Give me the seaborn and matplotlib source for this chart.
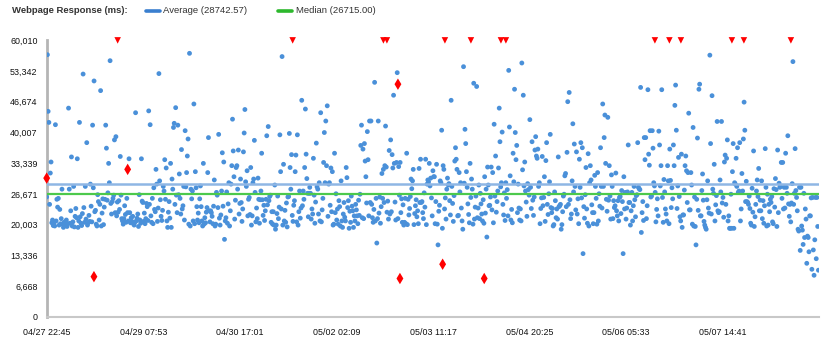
import matplotlib
matplotlib.use("Agg")
import matplotlib.pyplot as plt
import matplotlib.dates as mdates
from matplotlib.lines import Line2D
import numpy as np
import pandas as pd
import seaborn as sns

# ---- data -------------------------------------------------------------
START = "2016-04-27 22:45"
SAMPLE_FREQ = "15min"

# response times (ms), one sample every 15 minutes, in time order
block_a = [
    26000, 56900, 44600, 42200, 24400, 31200, 33600, 20400, 21000, 19800,
    20400, 19700, 41700, 20800, 25500, 23800, 25700, 19900, 23300, 20200,
    21300, 27700, 20100, 19400, 20500, 19900, 20300, 21000, 19600, 20200,
    45300, 27700, 20300, 23000, 34700, 19700, 20600, 28300, 19500, 21800,
    23500, 21500, 34300, 19400, 20800, 42200, 21700, 20300, 19800, 22400,
    52700, 23700, 20500, 28300, 21200, 37800, 19900, 20400, 22000, 20700,
    28800, 24000, 20600, 41600, 28000, 51200, 22800, 23100, 20100, 19700,
    26500, 25000, 21000, 24400, 49100, 19700, 22500, 25600, 20000, 23800,
    25500, 41600, 36600, 25300, 26900, 33300, 29100, 55600, 24600, 22300,
    25000, 25700, 26400, 38400, 22600, 39100, 21900, 24900, 22700, 25200,
    23300, 34800, 26400, 21300, 20800, 20100, 21300, 24100, 22200, 20500,
    25700, 22600, 20800, 34300, 22600, 20400, 21500, 20700, 21800, 20200,
    19900, 20500, 44300, 20800, 21400, 22300, 19600, 26500, 21000, 20300,
    34300, 25100, 24800, 20700, 22500, 20200, 21300, 24600, 23900, 20900,
    44700, 24400, 41700, 21900, 20500, 25700, 20200, 28000, 23300, 22800,
    32000, 28800, 20700, 23600, 52800, 29500, 25400, 21800, 20900, 23100,
    28300, 27300, 34100, 25500, 32300, 20800, 19400, 22700, 25000, 21400,
    33300, 19400, 29900, 27700, 41100, 42000, 24400, 45400, 26400, 22600,
    41600, 26500, 31000, 25700, 22300, 36300, 23400, 24100, 28300, 21000,
    40400, 28200, 31300, 34900, 38600, 20100, 57200, 19700, 27700, 25600,
    27300, 20800, 46200, 20200, 31500, 28000, 23900, 21000, 22500, 20400,
]
block_b = [
    25600, 28400, 23900, 20800, 19700, 33300, 20100, 21500, 20400, 22700,
    23700, 31300, 38900, 23000, 20600, 23000, 22600, 21800, 20200, 24000,
    29700, 19700, 20100, 27000, 26400, 23700, 39600, 21400, 19900, 22100,
    27300, 35600, 24000, 33600, 16800, 20800, 21500, 27100, 20300, 24500,
    29100, 19700, 23000, 28800, 32800, 42900, 36000, 30400, 21200, 25300,
    32400, 32800, 27700, 36200, 22300, 24600, 29900, 24800, 20700, 23400,
    35800, 39900, 45000, 29300, 28300, 31700, 21900, 25500, 25900, 22200,
    32400, 19900, 21900, 29100, 29900, 38300, 27000, 20600, 23600, 21300,
    30100, 25500, 20300, 25400, 27300, 35500, 25400, 22000, 24200, 20900,
    23000, 25500, 39300, 24300, 41300, 25200, 26100, 26400, 20500, 22800,
    20100, 22800, 19900, 28600, 19000, 19900, 22400, 26200, 21300, 23800,
    39500, 31500, 23400, 56500, 19900, 33100, 20800, 23100, 20500, 24700,
    19500, 26000, 26100, 39800, 32400, 27700, 35200, 22000, 20700, 24200,
    25200, 31500, 35100, 20600, 39500, 19900, 22800, 27300, 21400, 23600,
    47000, 24100, 27300, 25500, 32400, 45100, 35300, 30000, 26800, 21700,
    26800, 28100, 26800, 21200, 23400, 22300, 34400, 26400, 20300, 24900,
    37700, 28200, 27700, 22300, 29100, 20800, 44300, 20600, 23200, 25700,
    33500, 40000, 29100, 42500, 32800, 45800, 21800, 28800, 29100, 24200,
    32300, 22800, 31500, 19900, 20100, 35500, 22600, 26700, 21000, 23400,
    20100, 25200, 23900, 19700, 29500, 20800, 19400, 22300, 24800, 21600,
    20800, 32400, 30200, 23700, 25200, 19200, 22900, 20500, 26200, 24000,
]
block_c = [
    23000, 19400, 21900, 20800, 24400, 23200, 21900, 20200, 25300, 22000,
    26600, 37200, 41600, 21500, 36400, 21300, 37600, 33800, 30400, 24700,
    40200, 34100, 21900, 42500, 24800, 42500, 24400, 21500, 20500, 23300,
    50900, 20800, 25700, 16000, 21300, 42500, 22500, 26000, 20300, 23900,
    31100, 25700, 32000, 24800, 32800, 41400, 32500, 22700, 25100, 21200,
    36100, 22300, 38400, 22800, 35200, 32300, 48100, 33300, 24900, 21000,
    33500, 53000, 21300, 32600, 26400, 33500, 22600, 25600, 20500, 24300,
    19900, 20500, 25700, 20200, 35500, 20000, 25500, 22100, 23500, 26100,
    29900, 27800, 29500, 32000, 20000, 22400, 24100, 25400, 21700, 23000,
    20200, 32200, 24800, 34200, 24800, 25000, 22600, 21300, 26900, 23800,
    34200, 20000, 28800, 29700, 29300, 33300, 28400, 30100, 25800, 21900,
    31700, 30400, 30400, 20200, 25000, 33100, 20100, 15600, 22900, 24200,
    29500, 29100, 40500, 19200, 32800, 32000, 23400, 25800, 21200, 27700,
    30100, 28600, 28900, 25200, 22100, 47000, 28300, 24600, 20700, 26300,
    33800, 36700, 34200, 32000, 21900, 22000, 31300, 27100, 29100, 23600,
    20800, 19000, 54300, 29000, 40700, 37600, 31500, 28100, 24500, 22200,
    20400, 33300, 25900, 29900, 27700, 20100, 50700, 21200, 23800, 26200,
    50000, 21500, 23600, 28600, 21300, 26800, 24500, 22300, 20800, 25400,
    20300, 30400, 22500, 27700, 17300, 32500, 28600, 24100, 24200, 26000,
    32500, 23200, 31300, 20400, 41800, 26200, 34900, 22700, 25000, 27300,
    32300, 45300, 38000, 28200, 29100, 40100, 24400, 22100, 26900, 20900,
]
block_d = [
    29100, 25700, 27600, 21900, 53500, 41200, 30600, 21000, 23300, 20400,
    35500, 29300, 49400, 40000, 34100, 37200, 22600, 28800, 23600, 21000,
    23400, 20800, 55100, 31900, 48100, 28400, 33600, 27300, 24900, 21800,
    28900, 27600, 26400, 42800, 28100, 23500, 38000, 25300, 22000, 26000,
    36200, 39100, 34900, 34400, 36400, 28300, 29100, 20200, 23500, 25800,
    34800, 24100, 25900, 30400, 20700, 33900, 37800, 24400, 22200, 26700,
    29300, 39600, 23700, 22600, 23500, 19700, 20000, 27100, 25200, 21500,
    23400, 21200, 34700, 23900, 24100, 24400, 19000, 20000, 22800, 26200,
    26600, 30600, 31100, 23900, 35700, 46700, 24400, 48700, 25400, 21300,
    22300, 29500, 41900, 27100, 37500, 28300, 23200, 35800, 22300, 25600,
    20200, 34200, 28100, 37800, 25800, 36700, 13700, 23900, 21400, 26500,
    32400, 23400, 20300, 35400, 19700, 29100, 32800, 29700, 24300, 22600,
    20200, 22600, 30700, 28300, 25700, 20100, 31300, 20800, 26700, 24000,
    36700, 28300, 23600, 46200, 28300, 38900, 43800, 33300, 25500, 22900,
    43300, 25300, 32800, 26200, 21200, 30800, 28300, 21300, 25200, 23700,
    24100, 31200, 23000, 21900, 25200, 20800, 25900, 26100, 22400, 27400,
    25000, 13700, 30400, 23400, 27000, 21200, 23600, 27100, 37300, 24800,
    24800, 19900, 23000, 27000, 20800, 24100, 28300, 25400, 21700, 26300,
    26500, 37800, 28100, 27800, 27600, 49800, 18300, 22600, 25000, 20900,
    38900, 34100, 38900, 21300, 24100, 49300, 35300, 32900, 40400, 26000,
    26200, 40400, 36600, 29100, 28400, 27000, 20600, 23300, 25600, 21900,
]
block_e = [
    40300, 37300, 28400, 32800, 49300, 25900, 20500, 29800, 27100, 23400,
    22300, 20800, 32800, 29500, 20200, 36400, 29600, 23700, 28000, 25600,
    37300, 32800, 45900, 50300, 40500, 23500, 28400, 34600, 26100, 21700,
    20800, 35300, 19400, 22100, 22100, 27500, 32800, 34900, 31700, 24800,
    31300, 44200, 23200, 23200, 31300, 28600, 20100, 41100, 19700, 26000,
    19600, 15600, 25500, 38800, 23100, 49400, 50500, 21900, 21900, 27400,
    31000, 25300, 20700, 19900, 19400, 19000, 25400, 29500, 23600, 22500,
    56800, 37600, 22300, 48000, 27700, 26800, 33100, 20800, 24300, 26300,
    42400, 23000, 22600, 22800, 29700, 27100, 42400, 24700, 25900, 21600,
    33600, 35100, 24400, 34400, 38400, 20800, 21900, 19200, 19200, 26600,
    19200, 31500, 37600, 19200, 29100, 28800, 34400, 28300, 36700, 27000,
    27300, 37800, 20800, 23400, 31100, 27300, 38600, 46600, 40500, 25000,
    29400, 25000, 24800, 24400, 26200, 23500, 20300, 19900, 27900, 22700,
    36000, 19600, 21700, 24400, 27300, 29700, 26100, 32200, 23000, 25300,
    23000, 29500, 21300, 25200, 20300, 24100, 36500, 28100, 19700, 26600,
    19900, 24400, 22800, 25500, 24800, 26100, 20600, 20200, 27800, 23800,
    30000, 27600, 19600, 36200, 22600, 29000, 28100, 28300, 33500, 25700,
    33500, 23400, 28100, 23600, 35500, 28100, 26800, 39300, 24500, 21800,
    24400, 20600, 24700, 28900, 55400, 24400, 26800, 36500, 27400, 25900,
    23000, 19000, 18600, 28100, 14400, 28100, 19700, 18800, 15700, 26800,
    17200, 23400, 21200, 11600, 17500, 17200, 14100, 21900, 21900, 25800,
    10300, 25900, 14500, 9000, 16700, 25900, 12600, 25900, 19600, 10100,
]

# failed requests that still returned a time (ms)
error_times = ["2016-04-27 22:45", "2016-04-28 14:58", "2016-04-29 02:32",
               "2016-05-02 23:15", "2016-05-02 23:56", "2016-05-03 14:35",
               "2016-05-04 04:51"]
error_values = [30100, 8700, 32000, 50500, 8300, 11400, 8300]

# requests beyond the chart ceiling (timeouts)
timeout_times = ["2016-04-28 23:06", "2016-05-01 11:08", "2016-05-02 18:16",
                 "2016-05-02 19:28", "2016-05-03 15:22", "2016-05-04 00:17",
                 "2016-05-04 10:35", "2016-05-04 12:17", "2016-05-06 15:24",
                 "2016-05-06 20:22", "2016-05-07 00:19", "2016-05-07 17:49",
                 "2016-05-07 21:56", "2016-05-08 14:03"]

AVERAGE = 28742.57
MEDIAN = 26715.00

Y_TICKS = [0, 6668, 13336, 20003, 26671, 33339, 40007, 46674, 53342, 60010]
X_STEP_MIN = 1988          # spacing of time ticks, minutes
X_TICK_COUNT = 8
X_SPAN_STEPS = 8

# ---- frames -----------------------------------------------------------
values = block_a + block_b + block_c + block_d + block_e
samples = pd.DataFrame({
    "time": pd.date_range(START, periods=len(values), freq=SAMPLE_FREQ),
    "response": values,
})
errors = pd.DataFrame({"time": pd.to_datetime(error_times),
                       "response": error_values})
y_max = Y_TICKS[-1]
timeouts = pd.DataFrame({"time": pd.to_datetime(timeout_times),
                         "response": [y_max] * len(timeout_times)})

# ---- figure -----------------------------------------------------------
sns.set_theme(style="white")
plt.rcParams["font.family"] = ["Liberation Sans", "DejaVu Sans"]

DOT = "#4a90d9"
AVG_C = "#8fb6e4"
MED_C = "#4cc94c"
RED = "#ff0000"
TXT = "#333333"

fig = plt.figure(figsize=(8.32, 3.40), dpi=100)
ax = fig.add_axes([0.0561, 0.0685, 0.9287, 0.8127])

sns.scatterplot(data=samples, x="time", y="response", ax=ax, color=DOT,
                s=12, edgecolor="none", linewidth=0, zorder=3, legend=False)
ax.axhline(AVERAGE, color=AVG_C, lw=1.8, zorder=4)
ax.axhline(MEDIAN, color=MED_C, lw=1.6, zorder=4)
sns.scatterplot(data=errors, x="time", y="response", ax=ax, color=RED,
                marker="d", s=34, edgecolor="none", linewidth=0, zorder=5,
                legend=False, clip_on=False)
sns.scatterplot(data=timeouts, x="time", y="response", ax=ax, color=RED,
                marker="v", s=22, edgecolor="none", linewidth=0, zorder=5,
                legend=False, clip_on=False)

# axes
t0 = pd.Timestamp(START)
ax.set_xlim(t0, t0 + pd.Timedelta(minutes=X_STEP_MIN * X_SPAN_STEPS))
ax.set_ylim(0, y_max)
x_ticks = pd.date_range(START, periods=X_TICK_COUNT, freq=f"{X_STEP_MIN}min")
ax.set_xticks(x_ticks)
ax.xaxis.set_major_formatter(mdates.DateFormatter("%m/%d %H:%M"))
ax.set_yticks(Y_TICKS)
ax.set_yticklabels([f"{v:,}" for v in Y_TICKS])
ax.set_xlabel("")
ax.set_ylabel("")
ax.grid(False)

for side in ("top", "right"):
    ax.spines[side].set_visible(False)
ax.spines["left"].set_color("#b5b5b5")
ax.spines["left"].set_linewidth(2.0)
ax.spines["bottom"].set_color("#c8c8c8")
ax.spines["bottom"].set_linewidth(1.5)
ax.tick_params(axis="both", which="major", direction="out", length=4,
               width=1, color="#b5b5b5", labelsize=6.4, labelcolor="#111111")
ax.tick_params(axis="y", pad=2.5)
ax.tick_params(axis="x", pad=4)

# header legend
yl = 1 - 10.5 / 340
fig.text(12 / 832, yl, "Webpage Response (ms):", fontsize=6.8, weight="bold",
         color=TXT, va="center", ha="left")
fig.add_artist(Line2D([146 / 832, 160 / 832], [yl, yl], color="#3a7fcf",
                      lw=2.6, transform=fig.transFigure))
fig.text(163 / 832, yl, f"Average ({AVERAGE:.2f})", fontsize=6.8, color=TXT,
         va="center", ha="left")
fig.add_artist(Line2D([278 / 832, 292 / 832], [yl, yl], color="#2db82d",
                      lw=2.6, transform=fig.transFigure))
fig.text(296 / 832, yl, f"Median ({MEDIAN:.2f})", fontsize=6.8, color=TXT,
         va="center", ha="left")

fig.savefig("out.png", dpi=100, facecolor="white")
